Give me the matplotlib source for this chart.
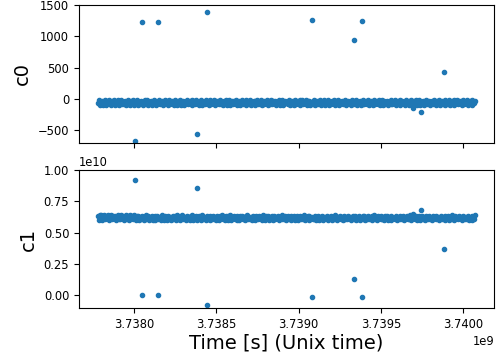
import numpy as np
import matplotlib
matplotlib.use("Agg")
import matplotlib.pyplot as plt

# Sampling window of the dense band (Unix time, s)
band_start = 3.73778e9
band_end = 3.740073e9

# c0 values of the dense band (magnitudes, all negative)
c0_mag = [
    62, 18, 95, 40, 77, 25, 88, 53, 12, 99, 35, 70, 20, 84, 47, 100, 30, 66, 15, 91,
    44, 78, 22, 58, 97, 38, 9, 73, 50, 86, 28, 98, 60, 17, 81, 42, 93, 33, 68, 11,
    89, 55, 31, 74, 14, 92, 49, 83, 26, 65, 96, 37, 8, 71, 57, 19, 87, 45, 63, 24,
    99, 52, 16, 79, 34, 90, 41, 69, 13, 85, 59, 27, 94, 48, 76, 21, 67, 36, 97, 10,
    82, 54, 29, 72, 43, 95, 18, 61, 88, 32, 75, 12, 100, 46, 66, 23, 91, 39, 58, 7,
    84, 51, 25, 77, 14, 93, 62, 35, 80, 20, 68, 47, 98, 28, 73, 11, 89, 56, 40, 86,
    17, 64, 33, 96, 50, 22, 79, 44, 70, 9, 92, 37, 60, 26, 85, 53, 15, 74, 42, 99,
    31, 67, 19, 88, 48, 76, 12, 94, 57, 24, 81, 36, 63, 8, 90, 45, 71, 27, 97, 52,
    16, 83, 39, 65, 21, 100, 58, 30, 78, 13, 87, 43, 69, 25, 95, 34, 61, 18, 80, 49,
    73, 10, 91, 55, 28, 84, 41, 66, 20, 98, 37, 75, 14, 86, 51, 32, 70, 23, 93, 46,
    62, 17, 89, 35, 77, 11, 96, 54, 29, 68, 42, 82, 19, 90, 60, 26, 74, 38, 99, 13,
    85, 48, 31, 71, 22, 94, 57, 15, 79, 44, 67, 9, 88, 33, 63, 24, 97, 52, 40, 76,
    18, 92, 36, 65, 27, 83, 50, 12, 100, 45, 72, 21, 87, 58, 34, 69, 14, 95, 41, 80,
    25, 61, 8, 90, 53, 30, 78, 16, 98, 47, 66, 23, 85, 39, 74, 11, 93, 56, 29, 70,
    43, 96, 19, 82, 60, 35, 77, 13, 89, 51, 64, 26, 99, 38, 71, 20, 86, 48, 32, 75,
    15, 91, 57, 28, 68, 42, 94, 10, 81, 54, 37, 79, 22, 97, 46, 63, 17, 88, 34, 72,
    49, 24, 95, 59, 31, 76, 14, 84, 43, 67, 20, 100, 52, 36, 73, 12, 90, 58, 27, 65,
    39, 87, 18, 61, 45, 93, 26, 70, 8, 83, 55, 33, 78, 21, 96, 48, 64, 15, 91, 41,
    74, 29, 99, 56, 11, 80, 38, 68, 23, 92, 50, 35, 86, 17, 62, 44, 97, 30, 71, 13,
    88, 53, 25, 77, 40, 95, 19, 66, 47, 82, 9, 90, 58, 32, 75, 22, 98, 43, 60, 16,
    85, 36, 70, 27, 94, 51, 14, 79, 45, 63, 21, 89, 55, 31, 73, 10, 96, 42, 67, 24,
]
c0_band = [-v for v in c0_mag]

# c1 values of the dense band (units of 1e7)
c1_band = [
    632, 605, 641, 618, 638, 602, 628, 640, 610, 636, 622, 639, 604, 630, 615, 642, 608, 634, 620, 637,
    601, 626, 640, 612, 633, 606, 638, 619, 637, 603, 629, 641, 611, 635, 624, 605, 640, 616, 631, 607,
    639, 621, 602, 630, 614, 636, 599, 625, 609, 633, 618, 601, 628, 638, 606, 622, 634, 600, 627, 612,
    637, 604, 620, 631, 598, 624, 635, 608, 616, 629, 602, 639, 611, 626, 600, 633, 619, 605, 636, 613,
    628, 599, 623, 634, 607, 617, 630, 601, 638, 610, 625, 603, 632, 615, 640, 606, 621, 629, 598, 635,
    612, 624, 602, 631, 618, 641, 605, 627, 609, 636, 600, 622, 633, 614, 603, 630, 640, 608, 625, 617,
    601, 634, 611, 628, 604, 637, 620, 606, 631, 613, 626, 599, 635, 610, 623, 603, 632, 616, 639, 607,
    627, 601, 634, 619, 605, 630, 612, 638, 602, 624, 615, 633, 608, 629, 600, 636, 620, 604, 631, 614,
    636, 609, 626, 603, 633, 617, 640, 606, 622, 611, 629, 598, 634, 613, 625, 602, 637, 618, 608, 631,
    615, 627, 601, 638, 610, 623, 605, 632, 619, 636, 600, 628, 612, 635, 604, 621, 630, 607, 624, 616,
    633, 603, 629, 614, 639, 606, 622, 610, 631, 601, 626, 637, 608, 618, 634, 599, 625, 612, 630, 605,
    620, 636, 602, 628, 615, 633, 607, 623, 611, 638, 604, 627, 616, 632, 600, 635, 609, 621, 629, 606,
    613, 631, 603, 626, 618, 637, 601, 624, 610, 634, 605, 629, 614, 622, 608, 636, 599, 627, 617, 632,
    604, 625, 612, 638, 607, 630, 600, 621, 615, 633, 609, 628, 602, 635, 619, 611, 626, 606, 631, 614,
    629, 601, 623, 636, 610, 618, 633, 605, 627, 612, 637, 603, 621, 616, 630, 608, 634, 600, 624, 611,
    635, 607, 628, 613, 632, 602, 620, 638, 609, 625, 604, 631, 617, 622, 606, 636, 611, 627, 601, 633,
    616, 630, 605, 624, 612, 637, 600, 629, 614, 621, 608, 635, 603, 626, 619, 632, 610, 623, 607, 634,
    602, 627, 618, 633, 606, 622, 611, 638, 604, 629, 615, 620, 609, 636, 601, 625, 613, 631, 605, 628,
    637, 610, 624, 603, 632, 616, 627, 606, 634, 612, 621, 600, 630, 617, 626, 608, 635, 614, 623, 604,
    619, 633, 607, 628, 611, 636, 602, 625, 615, 630, 605, 622, 613, 638, 609, 627, 601, 632, 618, 624,
    606, 631, 614, 626, 603, 635, 617, 623, 608, 629, 612, 637, 600, 621, 616, 633, 604, 628, 610, 640,
]

# Outlier samples
out_t = [3.738004e9, 3.738051e9, 3.738145e9, 3.738383e9, 3.738444e9, 3.739079e9,
         3.739338e9, 3.739384e9, 3.739694e9, 3.739744e9, 3.739885e9]
out_c0 = [-671, 1235, 1235, -559, 1385, 1262, 942, 1251, -149, -203, 436]
out_c1 = [0.920e10, 0.0, 0.0, 0.859e10, -0.074e10, -0.010e10, 0.131e10, -0.010e10, 0.652e10, 0.678e10, 0.374e10]

c0_ticks = [-500, 0, 500, 1000, 1500]
c1_ticks = [0.0, 0.25e10, 0.50e10, 0.75e10, 1.00e10]
x_ticks = [3.7380e9, 3.7385e9, 3.7390e9, 3.7395e9, 3.7400e9]

t0 = np.linspace(band_start, band_end, len(c0_band))
t1 = np.linspace(band_start, band_end, len(c1_band))

plt.rcParams['xtick.labelsize'] = 8.3
plt.rcParams['ytick.labelsize'] = 8.3

fig = plt.figure(figsize=(4.99, 3.58), dpi=100)
ax0 = fig.add_axes([0.1583, 0.6006, 0.8317, 0.3855])
ax1 = fig.add_axes([0.1583, 0.1397, 0.8317, 0.3855], sharex=ax0)

ax0.plot(np.concatenate([t0, out_t]), np.concatenate([c0_band, out_c0]), '.', color='C0')
ax1.plot(np.concatenate([t1, out_t]), np.concatenate([np.array(c1_band) * 1e7, out_c1]), '.', color='C0')

ax0.set_ylim(-700, 1500)
ax0.set_yticks(c0_ticks)
ax1.set_ylim(-0.1e10, 1.0e10)
ax1.set_yticks(c1_ticks)
ax0.set_xticks(x_ticks)
plt.setp(ax0.get_xticklabels(), visible=False)
ax0.xaxis.get_offset_text().set_visible(False)
ax1.xaxis.get_offset_text().set_fontsize(8.3)
ax1.yaxis.get_offset_text().set_fontsize(8.3)

ax0.set_ylabel('c0', fontsize=14)
ax1.set_ylabel('c1', fontsize=14)
ax1.set_xlabel('Time [s] (Unix time)', fontsize=14, labelpad=2)

fig.savefig('out.png', dpi=100)
